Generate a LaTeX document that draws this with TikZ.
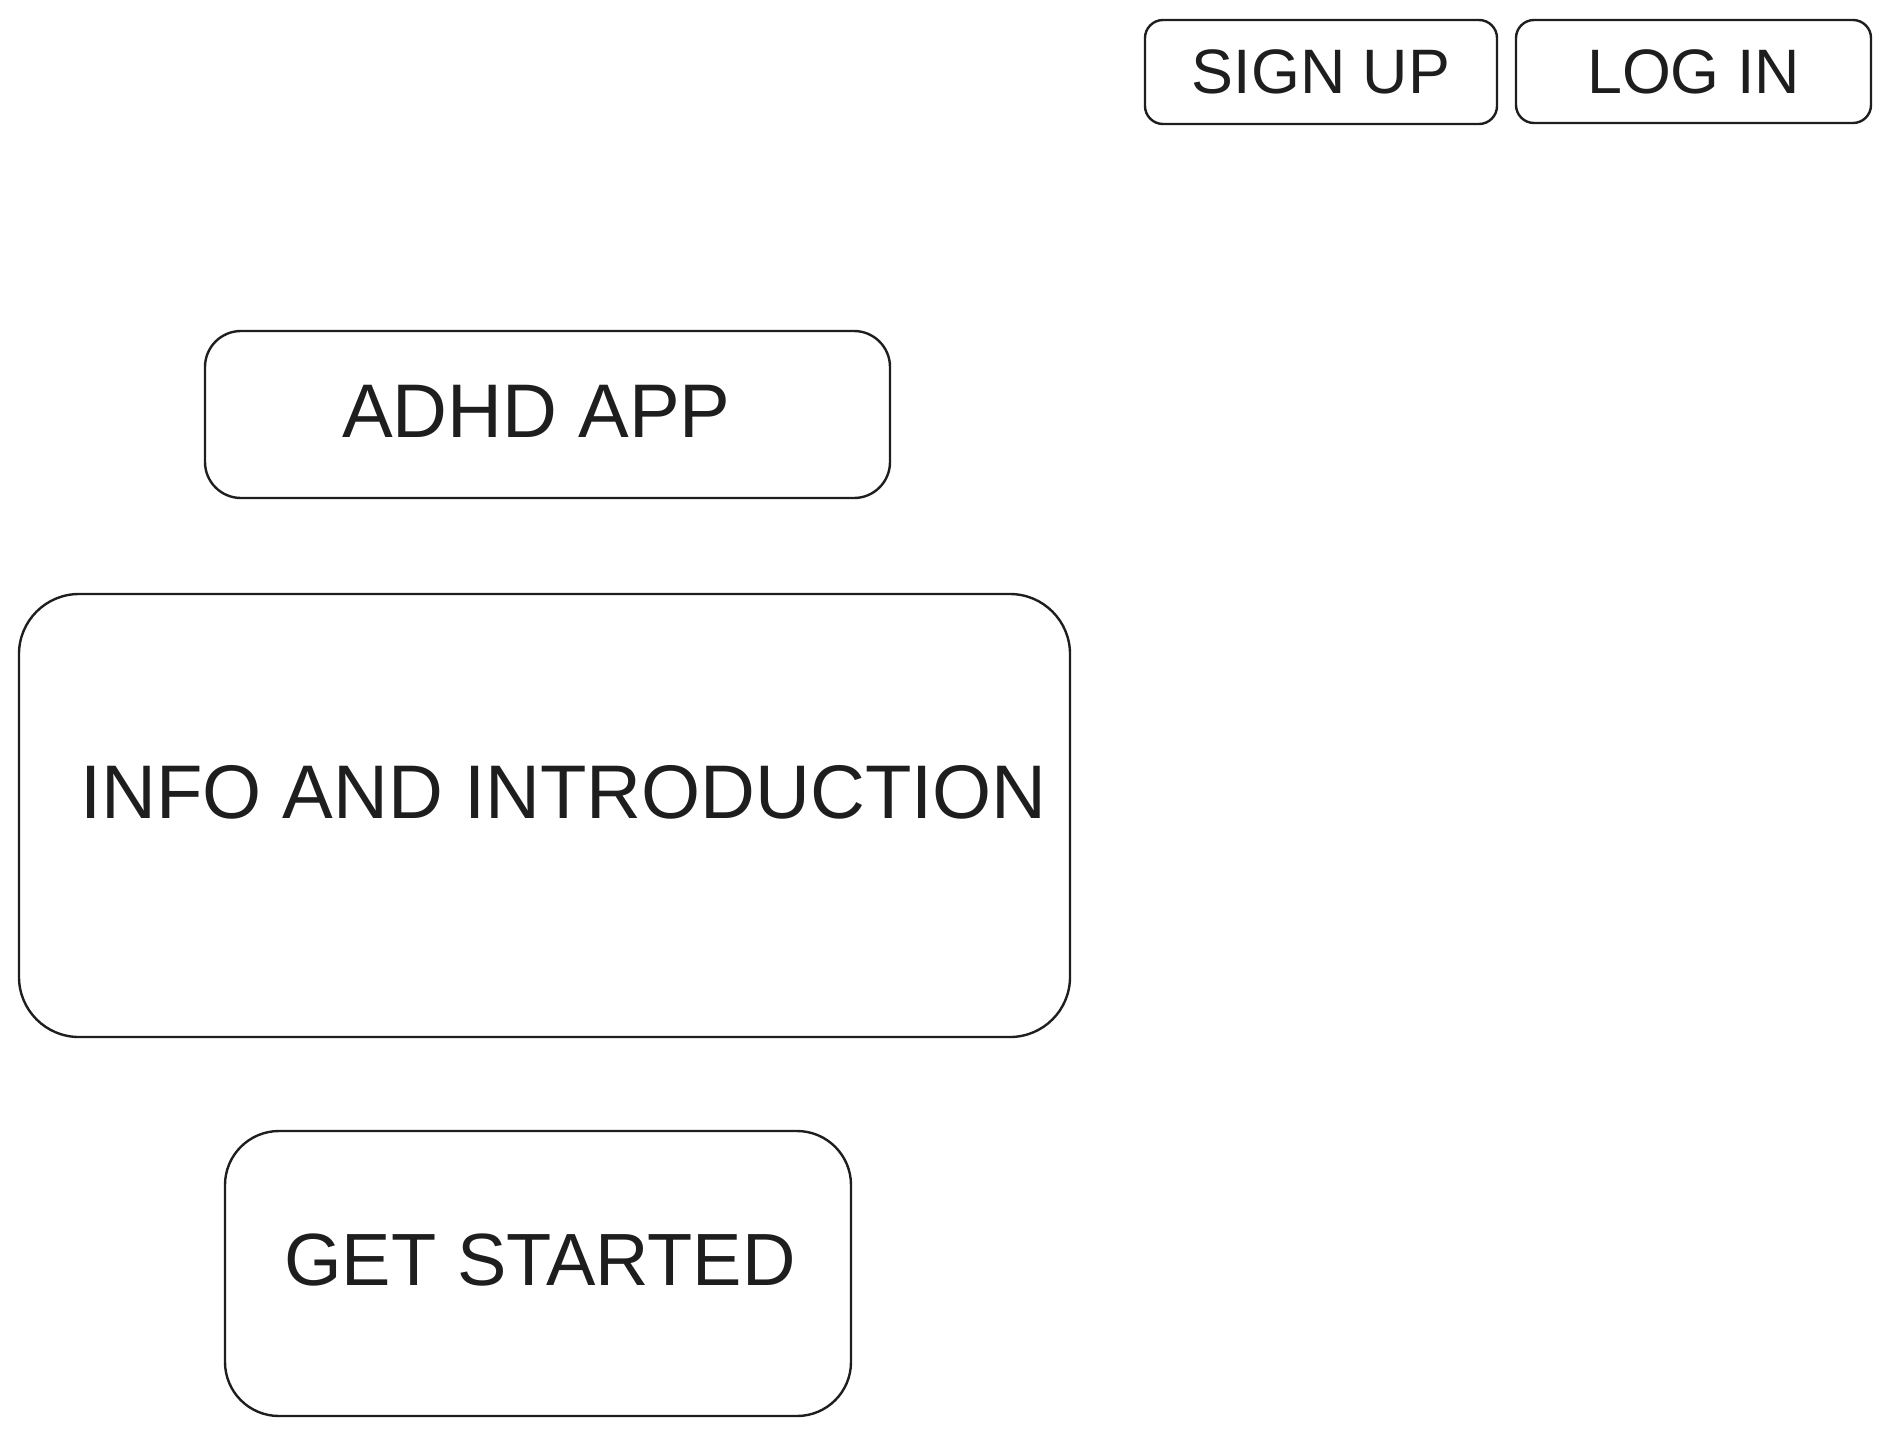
\documentclass[tikz,border=0pt]{standalone}
\usepackage{fontspec}
\setmainfont{Liberation Sans}
\definecolor{ink}{HTML}{1E1E1E}
\begin{document}
\begin{tikzpicture}[x=0.5pt,y=-0.5pt,
  box/.style={draw=ink,line width=1.2pt,inner sep=0pt,fill=none},
  lbl/.style={text=ink,inner sep=0pt,anchor=center}]
\useasboundingbox (0,0) rectangle (1890,1436);
% boxes
\node[box,rounded corners=9pt,minimum width=176pt,minimum height=52pt] (signup) at (1321,72) {};
\node[box,rounded corners=9pt,minimum width=177.5pt,minimum height=51.5pt] (login) at (1693.5,71.5) {};
\node[box,rounded corners=18pt,minimum width=342.5pt,minimum height=83.5pt] (adhd) at (547.5,414.5) {};
\node[box,rounded corners=30pt,minimum width=525.5pt,minimum height=221.5pt] (info) at (544.5,815.5) {};
\node[box,rounded corners=27pt,minimum width=313pt,minimum height=142.5pt] (get) at (538,1273.5) {};
% labels
\node[lbl,font=\fontsize{31.4pt}{34pt}\selectfont] (signupT) at (signup.center) {SIGN UP};
\node[lbl,font=\fontsize{31.4pt}{34pt}\selectfont] (loginT) at (login.center) {LOG IN};
\node[lbl,font=\fontsize{38pt}{42pt}\selectfont] (adhdT) at ([xshift=-5.5pt,yshift=1.5pt]adhd.center) {ADHD APP};
\node[lbl,font=\fontsize{38pt}{42pt}\selectfont] (infoT) at ([xshift=9.5pt,yshift=11.5pt]info.center) {INFO AND INTRODUCTION};
\node[lbl,font=\fontsize{37pt}{42pt}\selectfont] (getT) at ([xshift=1pt,yshift=6.5pt]get.center) {GET STARTED};
\end{tikzpicture}
\end{document}
